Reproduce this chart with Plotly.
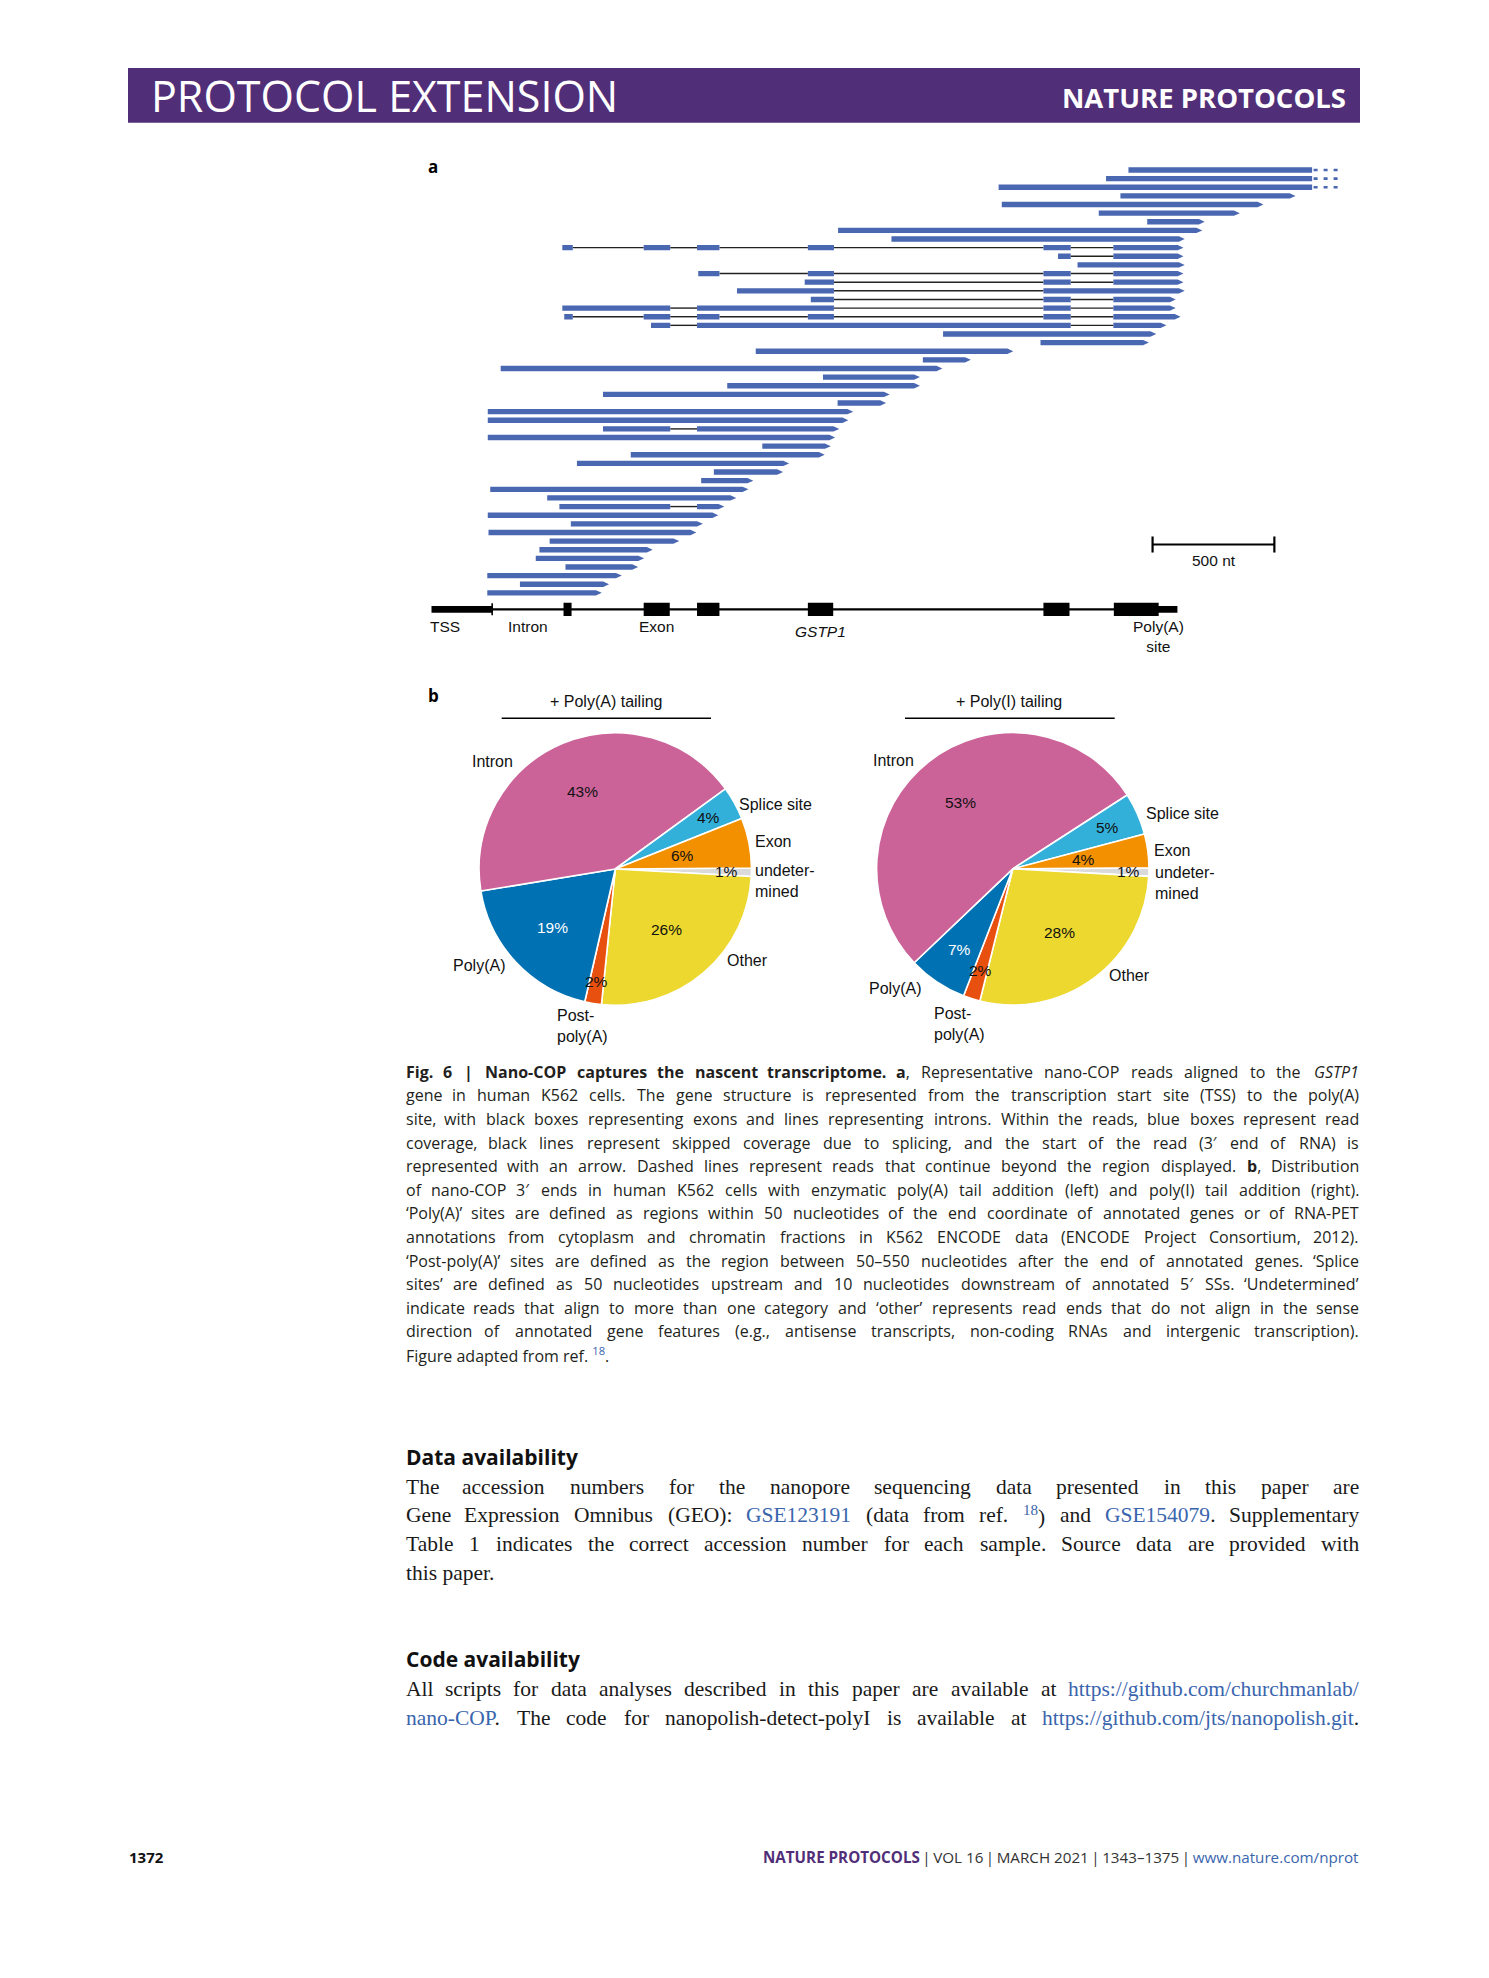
import math
import re
import plotly.graph_objects as go

W, H = 1489, 1978

# ---------------- Panel a data (positions in nt; 0 = left end of the TSS box) ----------------
read_blocks = [
    [(2861, 3615)],
    [(2769, 3615)],
    [(2328, 3615)],
    [(2828, 3547)],
    [(2341, 3415)],
    [(2739, 3318)],
    [(2938, 3174)],
    [(1669, 3164)],
    [(1888, 3092)],
    [(537, 580), (871, 980), (1090, 1182), (1545, 1652), (2512, 2624), (2799, 3087)],
    [(2572, 2624), (2799, 3087)],
    [(2652, 3092)],
    [(1095, 1182), (1545, 1652), (2512, 2624), (2799, 3087)],
    [(1532, 1652), (2512, 2624), (2799, 3087)],
    [(1254, 1652), (2512, 3092)],
    [(1557, 1652), (2512, 2624), (2799, 3055)],
    [(537, 980), (1090, 1652), (2512, 2624), (2799, 3055)],
    [(545, 580), (871, 980), (1090, 1182), (1545, 1652), (2512, 2624), (2799, 3075)],
    [(901, 980), (1090, 2624), (2799, 3017)],
    [(2100, 2975)],
    [(2500, 2945)],
    [(1331, 2388)],
    [(2017, 2214)],
    [(284, 2097)],
    [(1607, 2005)],
    [(1214, 2005)],
    [(704, 1881)],
    [(1667, 1866)],
    [(231, 1731)],
    [(231, 1711)],
    [(704, 980), (1090, 1674)],
    [(231, 1657)],
    [(1358, 1639)],
    [(818, 1614)],
    [(597, 1468)],
    [(1159, 1443)],
    [(1107, 1321)],
    [(241, 1301)],
    [(475, 1251)],
    [(525, 980), (1090, 1202)],
    [(231, 1177)],
    [(572, 1114)],
    [(234, 1087)],
    [(485, 1017)],
    [(443, 908)],
    [(428, 873)],
    [(550, 848)],
    [(229, 781)],
    [(363, 729)],
    [(229, 699)],
]
reads_beyond_region = [0, 1, 2]

gene_exons = [(542, 575), (871, 978), (1090, 1182), (1545, 1649), (2512, 2619), (2801, 2985)]
gene_utr = [(0, 249), (2985, 3062)]
gene_intron_span = (249, 2985)
tss_tick = 249
scale_bar_nt = (2960, 3460)
gene_labels = ["TSS", "Intron", "Exon", "<i>GSTP1</i>", "Poly(A)<br>site"]
gene_label_nt = [55, 398, 925, 1597, 2985]

# ---------------- Panel b data ----------------
pie_labels = ["undetermined", "Other", "Post-poly(A)", "Poly(A)", "Intron", "Splice site", "Exon"]
polyA_pct = [1, 26, 2, 19, 43, 4, 6]
polyI_pct = [1, 28, 2, 7, 53, 5, 4]
pie_colors = ["#DADADA", "#ECD82E", "#E8500F", "#0071B3", "#CB6399", "#33B0DA", "#F29000"]
pct_colors = ["#111", "#111", "#111", "#FFFFFF", "#111", "#111", "#111"]

# ---------------- layout constants (pixels) ----------------
PX_NT0 = 431.5       # pixel x of nt 0
NT_PER_PX = 4.105
ROW0_PX = 170.0
ROW_PX = 8.63
GENE_ROW = (609.3 - ROW0_PX) / ROW_PX
SCALE_ROW = (544.5 - ROW0_PX) / ROW_PX
BLUE = "#4A67B1"
SANS = "Liberation Sans, Arial, sans-serif"
CAP = "Open Sans, sans-serif"
SERIF = "Liberation Serif, Times New Roman, serif"
PURPLE = "#512E78"
LINK = "#3A65AD"
TXT = "#231F20"


def px(x):
    return x / W


def py(y):
    return 1 - y / H


fig = go.Figure()

# ---------------- panel a: reads ----------------
HB = 0.31   # half bar height in rows
TIP = 24    # arrow tip in nt
poly_x, poly_y = [], []
intr_x, intr_y = [], []
dot_x, dot_y = [], []
for r, blocks in enumerate(read_blocks):
    arrow = r not in reads_beyond_region
    for j, (s, e) in enumerate(blocks):
        if j == len(blocks) - 1 and arrow:
            xs = [s, e - TIP, e, e - TIP, s, s]
            ys = [r - HB, r - HB, r, r + HB, r + HB, r - HB]
        else:
            xs = [s, e, e, s, s]
            ys = [r - HB, r - HB, r + HB, r + HB, r - HB]
        poly_x += xs + [None]
        poly_y += ys + [None]
        if j > 0:
            intr_x += [blocks[j - 1][1], s, None]
            intr_y += [r, r, None]
    if not arrow:
        e = blocks[-1][1]
        dot_x += [e + 6, e + 112, None]
        dot_y += [r, r, None]

fig.add_trace(go.Scatter(x=intr_x, y=intr_y, mode="lines", line=dict(color="#222", width=1.4),
                         hoverinfo="skip", showlegend=False))
fig.add_trace(go.Scatter(x=poly_x, y=poly_y, mode="lines", fill="toself", fillcolor=BLUE,
                         line=dict(width=0, color=BLUE), hoverinfo="skip", showlegend=False))
fig.add_trace(go.Scatter(x=dot_x, y=dot_y, mode="lines", line=dict(color=BLUE, width=2.6, dash="4px,6px"),
                         hoverinfo="skip", showlegend=False))

# ---------------- panel a: gene structure ----------------
gx, gy = [], []
for (s, e), hh in [(b, 0.39) for b in gene_utr] + [(b, 0.77) for b in gene_exons]:
    gx += [s, e, e, s, s, None]
    gy += [GENE_ROW - hh, GENE_ROW - hh, GENE_ROW + hh, GENE_ROW + hh, GENE_ROW - hh, None]
fig.add_trace(go.Scatter(x=[gene_intron_span[0], gene_intron_span[1]], y=[GENE_ROW, GENE_ROW], mode="lines",
                         line=dict(color="black", width=2.2), hoverinfo="skip", showlegend=False))
fig.add_trace(go.Scatter(x=[tss_tick, tss_tick], y=[GENE_ROW - 0.7, GENE_ROW + 0.7], mode="lines",
                         line=dict(color="black", width=1.6), hoverinfo="skip", showlegend=False))
fig.add_trace(go.Scatter(x=gx, y=gy, mode="lines", fill="toself", fillcolor="black",
                         line=dict(width=0, color="black"), hoverinfo="skip", showlegend=False))
# scale bar
s0, s1 = scale_bar_nt
fig.add_trace(go.Scatter(x=[s0, s1, None, s0, s0, None, s1, s1],
                         y=[SCALE_ROW, SCALE_ROW, None, SCALE_ROW - 0.93, SCALE_ROW + 0.93, None,
                            SCALE_ROW - 0.93, SCALE_ROW + 0.93],
                         mode="lines", line=dict(color="black", width=2.2), hoverinfo="skip", showlegend=False))

annotations = []


def ann(text, x, y, size, family=SANS, color="#111", xanchor="center", yanchor="middle", align="center",
        xref="paper", yref="paper"):
    if xref == "paper":
        x = px(x)
    if yref == "paper":
        y = py(y)
    annotations.append(dict(text=text, x=x, y=y, xref=xref, yref=yref, showarrow=False,
                            font=dict(size=size, family=family, color=color), xanchor=xanchor,
                            yanchor=yanchor, align=align, borderpad=0))


for lab, xn in zip(gene_labels, gene_label_nt):
    yrow = GENE_ROW + (2.05 if "site" not in lab else 3.1)
    if "GSTP1" in lab:
        yrow = GENE_ROW + 2.6
    ann(lab, xn, yrow, 15.5, xref="x", yref="y")
ann("500 nt", (s0 + s1) / 2 + 4, SCALE_ROW + 1.8, 15.5, xref="x", yref="y")

# panel letters
ann("<b>a</b>", 427, 166, 17, family=CAP, color="black", xanchor="left")
ann("<b>b</b>", 427, 695, 17, family=CAP, color="black", xanchor="left")

# ---------------- panel b: pies ----------------
R = 136.2
pies = [
    (polyA_pct, 615.3, 869.0, "+ Poly(A) tailing", 606.7, (501.7, 711.0),
     [0.82, 0.58, 0.84, 0.63, 0.62, 0.78, 0.50]),
    (polyI_pct, 1012.8, 868.8, "+ Poly(I) tailing", 1009.3, (905.0, 1114.7),
     [0.85, 0.58, 0.78, 0.71, 0.62, 0.76, 0.52]),
]
ROT = 89.6
shapes = []
for vals, cx, cy, title, tx, (l0, l1), fracs in pies:
    fig.add_trace(go.Pie(labels=pie_labels, values=vals, sort=False, direction="clockwise", rotation=ROT,
                         marker=dict(colors=pie_colors, line=dict(color="white", width=1.6)),
                         textinfo="none", hoverinfo="label+value", showlegend=False,
                         domain=dict(x=[px(cx - R), px(cx + R)], y=[py(cy + R), py(cy - R)])))
    total = sum(vals)
    cum = 0
    for v, f, c in zip(vals, fracs, pct_colors):
        a = math.radians(ROT + (cum + v / 2) / total * 360)
        ann(f"{v}%", cx + f * R * math.sin(a), cy - f * R * math.cos(a), 15.5, color=c)
        cum += v
    ann(title, tx, 701.5, 16)
    shapes.append(dict(type="line", xref="paper", yref="paper", x0=px(l0), x1=px(l1), y0=py(718.3),
                       y1=py(718.3), line=dict(color="black", width=1.4)))

# category labels (left pie)
ann("Intron", 492.7, 761.7, 16)
ann("Splice site", 738.3, 804, 16, xanchor="left")
ann("Exon", 754, 841.7, 16, xanchor="left")
ann("undeter-<br>mined", 754, 880.5, 16, xanchor="left", align="left")
ann("Other", 747, 960, 16)
ann("Poly(A)", 479, 965, 16)
ann("Post-<br>poly(A)", 555.7, 1026, 16, xanchor="left", align="left")
# category labels (right pie)
ann("Intron", 893, 760.7, 16)
ann("Splice site", 1145, 813.3, 16, xanchor="left")
ann("Exon", 1152.7, 850, 16, xanchor="left")
ann("undeter-<br>mined", 1154.3, 882.8, 16, xanchor="left", align="left")
ann("Other", 1129.7, 975.7, 16)
ann("Poly(A)", 895, 988.3, 16)
ann("Post-<br>poly(A)", 933.3, 1023.7, 16, xanchor="left", align="left")

# ---------------- text: header ----------------
shapes.append(dict(type="rect", xref="paper", yref="paper", x0=px(128), x1=px(1360), y0=py(122.7), y1=py(68),
                   fillcolor=PURPLE, line=dict(width=0), layer="below"))
ann("PROTOCOL EXTENSION", 150, 95.5, 43, family=CAP, color="white", xanchor="left")
ann("<b>NATURE PROTOCOLS</b>", 1347, 97.5, 27.5, family=CAP, color="white", xanchor="right")

# ---------------- justified text helper ----------------
OS_W = dict(zip("abcdefghijklmnopqrstuvwxyz",
                [.556, .613, .476, .613, .561, .339, .548, .614, .253, .253, .525, .253, .93, .614, .604, .613,
                 .613, .408, .477, .353, .614, .501, .778, .524, .502, .477]))
OS_W.update(zip("ABCDEFGHIJKLMNOPQRSTUVWXYZ",
                [.633, .648, .631, .729, .544, .522, .728, .742, .283, .269, .627, .539, .903, .76, .781, .593,
                 .781, .615, .549, .56, .733, .6, .93, .591, .566, .569]))
OS_W.update({c: .572 for c in "0123456789"})
OS_W.update({".": .266, ",": .246, ":": .266, ";": .266, "(": .297, ")": .297, "-": .322, "–": .5,
             "’": .171, "‘": .171, "′": .25, "|": .53, "%": .855, "/": .367, "'": .2, " ": .26})
TM_W = dict(zip("abcdefghijklmnopqrstuvwxyz",
                [.444, .5, .444, .5, .444, .333, .5, .5, .278, .278, .5, .278, .778, .5, .5, .5, .5, .333, .389,
                 .278, .5, .5, .722, .5, .5, .444]))
TM_W.update(zip("ABCDEFGHIJKLMNOPQRSTUVWXYZ",
                [.722, .667, .667, .722, .611, .556, .722, .722, .333, .389, .722, .611, .889, .722, .722, .556,
                 .722, .667, .556, .611, .722, .722, .944, .722, .722, .611]))
TM_W.update({c: .5 for c in "0123456789"})
TM_W.update({".": .25, ",": .25, ":": .278, "(": .333, ")": .333, "-": .333, "/": .278, " ": .25})


def strip(s):
    return re.sub(r"<[^>]+>", "", s)


def est(word, table, size):
    sups = "".join(re.findall(r"<sup>(.*?)</sup>", word))
    main = strip(re.sub(r"<sup>.*?</sup>", "", word))
    w = sum(table.get(c, .55) for c in main) + 0.7 * sum(table.get(c, .55) for c in strip(sups))
    if "<b>" in word:
        w *= 1.06
    return w * size


def text_line(line, y, x0, x1, size, family, table, justify=True, color=TXT):
    words = re.split(r" (?![^<]*>)", line)
    if not justify or len(words) == 1:
        ann(line, x0, y, size, family=family, color=color, xanchor="left")
        return
    ws = [est(w, table, size) for w in words]
    gap = (x1 - x0 - sum(ws)) / (len(words) - 1)
    x = x0
    for i, (w, wd) in enumerate(zip(words, ws)):
        if i == 0:
            ann(w, x0, y, size, family=family, color=color, xanchor="left")
        elif i == len(words) - 1:
            ann(w, x1, y, size, family=family, color=color, xanchor="right")
        else:
            ann(w, x + wd / 2, y, size, family=family, color=color)
        x += wd + gap


def bold_words(s):
    return " ".join(f"<b>{w}</b>" for w in s.split())


def link(s):
    return f'<span style="color:{LINK}">{s}</span>'


caption_lines = [
    bold_words("Fig. 6 | Nano-COP captures the nascent transcriptome.") +
    " <b>a</b>, Representative nano-COP reads aligned to the <i>GSTP1</i>",
    "gene in human K562 cells. The gene structure is represented from the transcription start site (TSS) to the poly(A)",
    "site, with black boxes representing exons and lines representing introns. Within the reads, blue boxes represent read",
    "coverage, black lines represent skipped coverage due to splicing, and the start of the read (3′ end of RNA) is",
    "represented with an arrow. Dashed lines represent reads that continue beyond the region displayed. <b>b</b>, Distribution",
    "of nano-COP 3′ ends in human K562 cells with enzymatic poly(A) tail addition (left) and poly(I) tail addition (right).",
    "‘Poly(A)’ sites are defined as regions within 50 nucleotides of the end coordinate of annotated genes or of RNA-PET",
    "annotations from cytoplasm and chromatin fractions in K562 ENCODE data (ENCODE Project Consortium, 2012).",
    "‘Post-poly(A)’ sites are defined as the region between 50–550 nucleotides after the end of annotated genes. ‘Splice",
    "sites’ are defined as 50 nucleotides upstream and 10 nucleotides downstream of annotated 5′ SSs. ‘Undetermined’",
    "indicate reads that align to more than one category and ‘other’ represents read ends that do not align in the sense",
    "direction of annotated gene features (e.g., antisense transcripts, non-coding RNAs and intergenic transcription).",
    "Figure adapted from ref. <sup>" + link("18") + "</sup>.",
]
X0, X1 = 404.5, 1360.0
for i, line in enumerate(caption_lines):
    text_line(line, 1071.7 + i * 23.6, X0, X1, 16, CAP, OS_W, justify=(i < len(caption_lines) - 1))

# Data / code availability
ann("<b>Data availability</b>", X0, 1456.7, 21, family=CAP, color="#111", xanchor="left")
data_lines = [
    "The accession numbers for the nanopore sequencing data presented in this paper are",
    "Gene Expression Omnibus (GEO): " + link("GSE123191") + " (data from ref. <sup>" + link("18") + "</sup>) and " +
    link("GSE154079") + ". Supplementary",
    "Table 1 indicates the correct accession number for each sample. Source data are provided with",
    "this paper.",
]
for i, line in enumerate(data_lines):
    text_line(line, 1486.7 + i * 28.6, X0, X1, 21.5, SERIF, TM_W, justify=(i < 3), color="#1a1a1a")

ann("<b>Code availability</b>", X0, 1659.3, 21, family=CAP, color="#111", xanchor="left")
code_lines = [
    "All scripts for data analyses described in this paper are available at " +
    link("https://github.com/churchmanlab/"),
    link("nano-COP") + ". The code for nanopolish-detect-polyI is available at " +
    link("https://github.com/jts/nanopolish.git") + ".",
]
for i, line in enumerate(code_lines):
    text_line(line, 1689.3 + i * 29.0, X0, X1, 21.5, SERIF, TM_W, justify=True, color="#1a1a1a")

# footer
ann("<b>1372</b>", 128, 1857.3, 15, family=CAP, color="#111", xanchor="left")
ann(f'<b><span style="color:{PURPLE}">NATURE PROTOCOLS</span></b>\u2009|\u2009VOL 16\u2009|\u2009MARCH 2021'
    f'\u2009|\u20091343–1375\u2009|\u2009<span style="color:{LINK}">www.nature.com/nprot</span>',
    1360, 1857.3, 15.2, family=CAP, color="#333", xanchor="right")

# ---------------- axes & layout ----------------
fig.update_layout(
    width=W, height=H, autosize=False,
    margin=dict(l=0, r=0, t=0, b=0),
    paper_bgcolor="white", plot_bgcolor="rgba(0,0,0,0)",
    xaxis=dict(domain=[px(404), px(1360)], range=[(404 - PX_NT0) * NT_PER_PX, (1360 - PX_NT0) * NT_PER_PX],
               visible=False, fixedrange=True),
    yaxis=dict(domain=[py(680), py(150)], range=[(680 - ROW0_PX) / ROW_PX, (150 - ROW0_PX) / ROW_PX],
               visible=False, fixedrange=True),
    annotations=annotations,
    shapes=shapes,
    showlegend=False,
)

fig.write_html("out.html", config={"displayModeBar": False},
               post_script="document.body.style.margin='0';document.body.style.overflow='hidden';")
